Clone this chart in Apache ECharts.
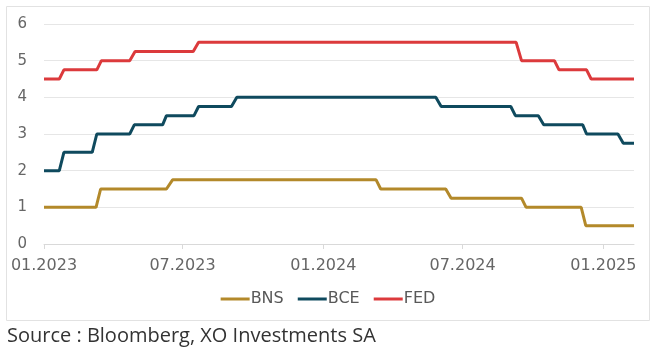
<!DOCTYPE html>
<html>
<head>
<meta charset="utf-8">
<script src="https://cdn.jsdelivr.net/npm/echarts@6/dist/echarts.min.js"></script>
<style>html,body{margin:0;padding:0;background:#fff}#c{width:656px;height:350px}</style>
</head>
<body>
<div id="c"></div>
<script>
// Step points: [date, rate]
const bnsData = [
  ['2023-01-01', 1.0], ['2023-03-10', 1.0], ['2023-03-16', 1.5],
  ['2023-06-10', 1.5], ['2023-06-18', 1.75],
  ['2024-03-10', 1.75], ['2024-03-16', 1.5],
  ['2024-06-09', 1.5], ['2024-06-16', 1.25],
  ['2024-09-16', 1.25], ['2024-09-22', 1.0],
  ['2024-12-03', 1.0], ['2024-12-09', 0.5],
  ['2025-02-10', 0.5]
];
const bceData = [
  ['2023-01-01', 2.0], ['2023-01-21', 2.0], ['2023-01-27', 2.5],
  ['2023-03-05', 2.5], ['2023-03-11', 3.0],
  ['2023-04-23', 3.0], ['2023-04-29', 3.25],
  ['2023-06-05', 3.25], ['2023-06-10', 3.5],
  ['2023-07-16', 3.5], ['2023-07-22', 3.75],
  ['2023-09-03', 3.75], ['2023-09-10', 4.0],
  ['2024-05-27', 4.0], ['2024-06-03', 3.75],
  ['2024-09-02', 3.75], ['2024-09-08', 3.5],
  ['2024-10-08', 3.5], ['2024-10-15', 3.25],
  ['2024-12-05', 3.25], ['2024-12-10', 3.0],
  ['2025-01-20', 3.0], ['2025-01-27', 2.75],
  ['2025-02-10', 2.75]
];
const fedData = [
  ['2023-01-01', 4.5], ['2023-01-21', 4.5], ['2023-01-27', 4.75],
  ['2023-03-11', 4.75], ['2023-03-17', 5.0],
  ['2023-04-23', 5.0], ['2023-04-30', 5.25],
  ['2023-07-15', 5.25], ['2023-07-22', 5.5],
  ['2024-09-09', 5.5], ['2024-09-16', 5.0],
  ['2024-10-29', 5.0], ['2024-11-04', 4.75],
  ['2024-12-10', 4.75], ['2024-12-16', 4.5],
  ['2025-02-10', 4.5]
];
const seriesNames = ['BNS', 'BCE', 'FED'];
const tickDates = ['2023-01-01', '2023-07-01', '2024-01-01', '2024-07-01', '2025-01-01'];
const tickLabels = ['01.2023', '07.2023', '01.2024', '07.2024', '01.2025'];
const colors = ['#b3892a', '#0f4a5e', '#dc3a3c'];

const ts = d => { const p = d.split('-').map(Number); return Date.UTC(p[0], p[1] - 1, p[2]); };
const toPts = arr => arr.map(([d, v]) => [ts(d), v]);
const tickTs = tickDates.map(ts);

const chart = echarts.init(document.getElementById('c'));
chart.setOption({
  animation: false,
  backgroundColor: '#fff',
  textStyle: { fontFamily: 'DejaVu Sans' },
  grid: { left: 44, right: 22, top: 24, bottom: 106, containLabel: false },
  graphic: [
    { type: 'rect', shape: { x: 6.5, y: 6.5, width: 643, height: 314 },
      style: { fill: 'none', stroke: '#e2e2e2', lineWidth: 1 }, silent: true, z: -1 },
    { type: 'text', left: 7, top: 326,
      style: { text: 'Source : Bloomberg, XO Investments SA', fontSize: 20, fill: '#333',
               fontFamily: 'Open Sans' } }
  ],
  legend: {
    data: seriesNames,
    bottom: 38,
    left: 'center',
    icon: 'rect',
    itemWidth: 29,
    itemHeight: 3,
    itemGap: 14,
    textStyle: { color: '#595959', fontSize: 16, fontFamily: 'DejaVu Sans', padding: [0, 0, 0, -4] }
  },
  xAxis: {
    type: 'value',
    min: ts('2023-01-01'),
    max: ts('2025-02-10'),
    axisLine: { show: true, lineStyle: { color: '#d9d9d9', width: 1 } },
    axisTick: { show: true, customValues: tickTs, length: 5, lineStyle: { color: '#d9d9d9' } },
    axisLabel: {
      customValues: tickTs,
      formatter: v => tickLabels[tickTs.indexOf(v)] || '',
      color: '#666', fontSize: 16, margin: 14, fontFamily: 'DejaVu Sans'
    },
    splitLine: { show: false }
  },
  yAxis: {
    type: 'value',
    min: 0, max: 6, interval: 1,
    axisLine: { show: false },
    axisTick: { show: false },
    axisLabel: { color: '#666', fontSize: 15, margin: 17, fontFamily: 'DejaVu Sans' },
    splitLine: { lineStyle: { color: '#e6e6e6', width: 1 } }
  },
  series: [bnsData, bceData, fedData].map((d, i) => ({
    name: seriesNames[i],
    type: 'line',
    data: toPts(d),
    showSymbol: false,
    symbol: 'none',
    lineStyle: { color: colors[i], width: 3 },
    itemStyle: { color: colors[i] }
  }))
});
</script>
</body>
</html>
